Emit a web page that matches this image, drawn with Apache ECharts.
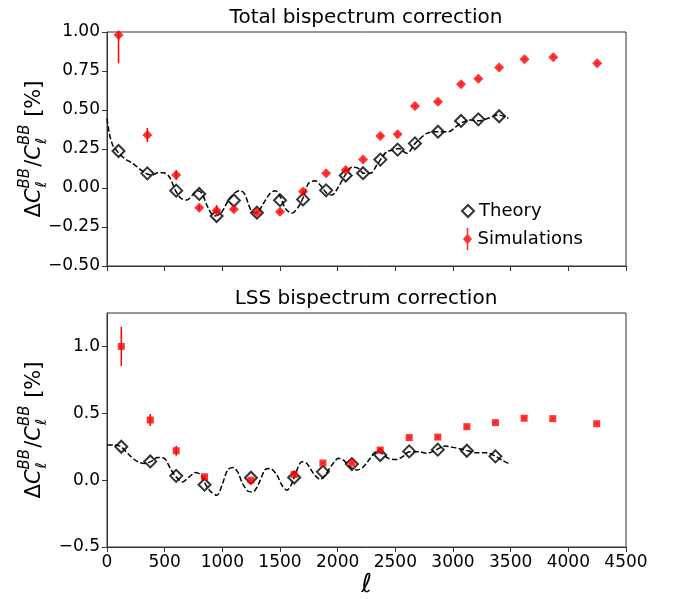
<!DOCTYPE html>
<html><head><meta charset="utf-8">
<script src="https://cdn.jsdelivr.net/npm/echarts@6/dist/echarts.min.js"></script>
<style>html,body{margin:0;padding:0;background:#fff}#c{width:678px;height:599px}</style>
</head><body><div id="c"></div>
<script>
// ---------- data ----------
const xTicks = [0, 500, 1000, 1500, 2000, 2500, 3000, 3500, 4000, 4500];
const topYTicks = [-0.5, -0.25, 0, 0.25, 0.5, 0.75, 1.0];
const botYTicks = [-0.5, 0, 0.5, 1.0];

// Total bispectrum correction
const topTheoryX = [100, 350, 600, 800, 950, 1100, 1300, 1500, 1700, 1900, 2070, 2220, 2370, 2520, 2670, 2870, 3070, 3220, 3400];
const topTheoryY = [0.237, 0.094, -0.017, -0.038, -0.18, -0.08, -0.158, -0.078, -0.073, -0.015, 0.08, 0.095, 0.182, 0.246, 0.286, 0.361, 0.43, 0.44, 0.46];
const topSimX = [100, 350, 600, 800, 950, 1100, 1300, 1500, 1700, 1900, 2070, 2220, 2370, 2520, 2670, 2870, 3070, 3220, 3400, 3620, 3870, 4250];
const topSimY = [0.98, 0.34, 0.083, -0.126, -0.145, -0.137, -0.155, -0.153, -0.022, 0.094, 0.115, 0.182, 0.333, 0.345, 0.526, 0.553, 0.665, 0.70, 0.773, 0.825, 0.838, 0.80];
const topSimErr = [0.18, 0.045, 0.03, 0.015, 0.035, 0.01, 0.01, 0.01, 0.01, 0.005, 0.005, 0.005, 0.005, 0.005, 0.005, 0.005, 0.005, 0.005, 0.005, 0.005, 0.005, 0.005];
const topCurveX = [0, 20, 49, 92, 150, 222, 295, 347, 395, 438, 490, 540, 592, 641, 693, 742, 785, 823, 872, 930, 988, 1045, 1103, 1146, 1190, 1248, 1294, 1357, 1415, 1459, 1502, 1545, 1603, 1660, 1704, 1747, 1805, 1848, 1906, 1950, 2007, 2065, 2123, 2180, 2224, 2282, 2340, 2383, 2426, 2484, 2527, 2600, 2672, 2773, 2860, 2960, 3033, 3076, 3148, 3220, 3307, 3393, 3480];
const topCurveY = [0.447, 0.35, 0.276, 0.233, 0.19, 0.158, 0.115, 0.09, 0.083, 0.098, 0.098, 0.072, -0.013, -0.066, -0.077, -0.045, -0.017, -0.034, -0.12, -0.18, -0.162, -0.088, -0.034, -0.017, -0.034, -0.141, -0.162, -0.098, -0.034, -0.017, -0.056, -0.13, -0.162, -0.12, -0.056, 0.03, 0.047, 0.019, -0.034, -0.045, 0.008, 0.083, 0.133, 0.126, 0.094, 0.094, 0.147, 0.194, 0.233, 0.244, 0.254, 0.222, 0.286, 0.35, 0.361, 0.361, 0.397, 0.419, 0.436, 0.431, 0.447, 0.468, 0.447];

// LSS bispectrum correction
const botTheoryX = [124, 375, 600, 846, 1248, 1623, 1872, 2123, 2369, 2620, 2868, 3120, 3368];
const botTheoryY = [0.25, 0.14, 0.032, -0.034, 0.018, 0.02, 0.062, 0.12, 0.188, 0.215, 0.228, 0.22, 0.178];
const botSimX = [124, 375, 600, 846, 1248, 1623, 1872, 2123, 2369, 2620, 2868, 3120, 3368, 3617, 3865, 4246];
const botSimY = [1.0, 0.45, 0.22, 0.025, 0.0, 0.042, 0.128, 0.128, 0.225, 0.318, 0.322, 0.40, 0.43, 0.463, 0.46, 0.422];
const botSimErr = [0.147, 0.045, 0.037, 0.01, 0.005, 0.005, 0.005, 0.005, 0.005, 0.005, 0.005, 0.005, 0.005, 0.005, 0.005, 0.005];
const botCurveX = [0, 63, 121, 193, 265, 323, 381, 438, 497, 549, 598, 655, 713, 771, 815, 858, 901, 953, 1002, 1045, 1089, 1132, 1175, 1224, 1262, 1285, 1329, 1372, 1415, 1473, 1517, 1560, 1603, 1646, 1690, 1733, 1790, 1848, 1892, 1950, 2007, 2050, 2108, 2166, 2224, 2282, 2334, 2383, 2440, 2513, 2570, 2620, 2700, 2773, 2860, 2932, 3003, 3105, 3206, 3293, 3365, 3423, 3480];
const botCurveY = [0.262, 0.262, 0.25, 0.188, 0.138, 0.125, 0.138, 0.17, 0.163, 0.088, 0.025, -0.013, 0.025, 0.058, 0.038, -0.038, -0.088, -0.113, -0.025, 0.075, 0.095, 0.063, -0.025, -0.083, -0.088, -0.075, 0, 0.08, 0.088, 0.038, -0.038, -0.075, -0.025, 0.075, 0.138, 0.125, 0.05, 0.005, 0.038, 0.113, 0.163, 0.15, 0.1, 0.075, 0.1, 0.163, 0.213, 0.2, 0.163, 0.155, 0.18, 0.213, 0.213, 0.2, 0.23, 0.255, 0.245, 0.225, 0.205, 0.205, 0.18, 0.15, 0.125];

const titles = ['Total bispectrum correction', 'LSS bispectrum correction'];
const seriesNames = ['Theory', 'Simulations'];

// ---------- helpers ----------
const zip = (a, b) => a.map((v, i) => [v, b[i]]);
const FONT = 'DejaVu Sans';
const topRange = [-0.5, 1.0];
const botRange = [-0.5, 1.25];
const fmt = d => v => (v < 0 ? '\u2212' : '') + Math.abs(v).toFixed(d);

function errData(xs, ys, es) {
  return xs.map((x, i) => [x, ys[i] - es[i], ys[i] + es[i]]);
}
function errRender(range) {
  return function (params, api) {
    const x = api.value(0);
    const lo = Math.max(api.value(1), range[0]);
    const hi = Math.min(api.value(2), range[1]);
    const p1 = api.coord([x, lo]);
    const p2 = api.coord([x, hi]);
    return { type: 'line', shape: { x1: p1[0], y1: p1[1], x2: p2[0], y2: p2[1] },
      style: { stroke: '#ff0000', lineWidth: 1.5 } };
  };
}

// y-axis label  ΔC_ℓ^BB / C_ℓ^BB [%]  built as rotated text pieces
const mctx = document.createElement('canvas').getContext('2d');
function tw(txt, size, italic) {
  mctx.font = (italic ? 'italic ' : '') + size + 'px "' + FONT + '"';
  return mctx.measureText(txt).width;
}
function yLabel(cx, cy) {
  const M = 21, S = 15;
  const parts = [];
  let x = 0;
  const add = (txt, size, italic, dy, advance) => {
    parts.push({ type: 'text', x: x, y: dy, style: { text: txt, fontFamily: FONT, fontSize: size, fontStyle: italic ? 'italic' : 'normal', fill: '#000', textAlign: 'left', textVerticalAlign: 'middle' } });
    if (advance) x += tw(txt, size, italic);
  };
  add('\u0394', M, false, 0, true);
  add('C', M, true, 0, true);
  const x0 = x;
  add('BB', S, true, -10, false);
  x += 1; add('\u2113', S, true, 7, false);
  x = x0 + tw('BB', S, true) + 1;
  add('/', M, false, 0, true);
  add('C', M, true, 0, true);
  const x1 = x;
  add('BB', S, true, -10, false);
  x += 1; add('\u2113', S, true, 7, false);
  x = x1 + tw('BB', S, true) + 1;
  add(' [%]', M, false, 0, true);
  const W = x;
  parts.forEach(p => { p.x -= W / 2; });
  return { type: 'group', x: cx, y: cy, rotation: Math.PI / 2, silent: true, children: parts };
}

const axisLineStyle = { color: '#333', width: 1 };
const labelStyle = { fontFamily: FONT, fontSize: 17, color: '#000' };

function xAxisCfg(gridIndex, showLabels) {
  return {
    type: 'value', gridIndex, min: 0, max: 4500, interval: 500,
    axisLine: { show: true, onZero: false, lineStyle: axisLineStyle },
    axisTick: { show: true, length: 5, lineStyle: axisLineStyle },
    axisLabel: Object.assign({ show: showLabels, margin: 7, formatter: v => String(v) }, labelStyle),
    splitLine: { show: false },
    name: showLabels ? '\u2113' : '',
    nameLocation: 'middle', nameGap: 22,
    nameTextStyle: { fontFamily: FONT, fontSize: 26, fontStyle: 'italic', color: '#000' }
  };
}
function yAxisCfg(gridIndex, range, interval, ticks, digits) {
  return {
    type: 'value', gridIndex, min: range[0], max: range[1], interval,
    axisLine: { show: true, onZero: false, lineStyle: axisLineStyle },
    axisTick: { show: true, length: 5, lineStyle: axisLineStyle, customValues: ticks },
    axisLabel: Object.assign({ margin: 7, formatter: fmt(digits), customValues: ticks }, labelStyle),
    splitLine: { show: false }
  };
}

const chart = echarts.init(document.getElementById('c'), null, { renderer: 'canvas' });
chart.setOption({
  backgroundColor: '#fff',
  animation: false,
  title: titles.map((t, i) => ({
    text: t, left: 366, top: i === 0 ? 8 : 289, textAlign: 'center', padding: 0,
    textStyle: { fontFamily: FONT, fontSize: 20, fontWeight: 'normal', color: '#000' }
  })),
  grid: [
    { left: 107, top: 32, width: 519, height: 234, show: true, borderColor: '#333', borderWidth: 1, backgroundColor: 'transparent' },
    { left: 107, top: 313, width: 519, height: 234, show: true, borderColor: '#333', borderWidth: 1, backgroundColor: 'transparent' }
  ],
  xAxis: [xAxisCfg(0, false), xAxisCfg(1, true)],
  yAxis: [yAxisCfg(0, topRange, 0.25, topYTicks, 2), yAxisCfg(1, botRange, 0.5, botYTicks, 1)],
  graphic: [yLabel(35, 149), yLabel(35, 430)],
  legend: [
    {
      data: [{ name: seriesNames[0], icon: 'diamond', itemStyle: { color: 'rgba(0,0,0,0)', borderColor: '#000', borderWidth: 2 } }],
      left: 461, top: 202, itemWidth: 12, itemHeight: 12, selectedMode: false, padding: 0,
      textStyle: { fontFamily: FONT, fontSize: 18, color: '#000' }
    },
    {
      data: [{ name: seriesNames[1], icon: 'path://M-0.8,-11 L0.8,-11 L0.8,-4.5 L4.5,0 L0.8,4.5 L0.8,11 L-0.8,11 L-0.8,4.5 L-4.5,0 L-0.8,-4.5 Z', itemStyle: { color: '#ff0000' } }],
      left: 463, top: 228, itemWidth: 10, itemHeight: 22, selectedMode: false, padding: 0,
      textStyle: { fontFamily: FONT, fontSize: 18, color: '#000' }
    }
  ],
  series: [
    { type: 'line', name: 'curveTop', xAxisIndex: 0, yAxisIndex: 0, data: zip(topCurveX, topCurveY),
      showSymbol: false, smooth: 0.3, lineStyle: { color: '#000', width: 1.5, type: [5.5, 2.4] }, z: 2 },
    { type: 'scatter', name: seriesNames[0], xAxisIndex: 0, yAxisIndex: 0, data: zip(topTheoryX, topTheoryY),
      symbol: 'diamond', symbolSize: 12, itemStyle: { color: 'rgba(0,0,0,0)', borderColor: '#000', borderWidth: 2 }, z: 3 },
    { type: 'custom', name: 'errTop', xAxisIndex: 0, yAxisIndex: 0, data: errData(topSimX, topSimY, topSimErr),
      renderItem: errRender(topRange), z: 4 },
    { type: 'scatter', name: seriesNames[1], xAxisIndex: 0, yAxisIndex: 0, data: zip(topSimX, topSimY),
      symbol: 'diamond', symbolSize: 10, itemStyle: { color: '#ff0000' }, z: 5 },

    { type: 'line', name: 'curveBot', xAxisIndex: 1, yAxisIndex: 1, data: zip(botCurveX, botCurveY),
      showSymbol: false, smooth: 0.3, lineStyle: { color: '#000', width: 1.5, type: [5.5, 2.4] }, z: 2 },
    { type: 'scatter', name: 'TheoryLSS', xAxisIndex: 1, yAxisIndex: 1, data: zip(botTheoryX, botTheoryY),
      symbol: 'diamond', symbolSize: 12, itemStyle: { color: 'rgba(0,0,0,0)', borderColor: '#000', borderWidth: 2 }, z: 3 },
    { type: 'custom', name: 'errBot', xAxisIndex: 1, yAxisIndex: 1, data: errData(botSimX, botSimY, botSimErr),
      renderItem: errRender(botRange), z: 4 },
    { type: 'scatter', name: 'SimulationsLSS', xAxisIndex: 1, yAxisIndex: 1, data: zip(botSimX, botSimY),
      symbol: 'rect', symbolSize: 7, itemStyle: { color: '#ff0000' }, z: 5 }
  ]
});
</script></body></html>
